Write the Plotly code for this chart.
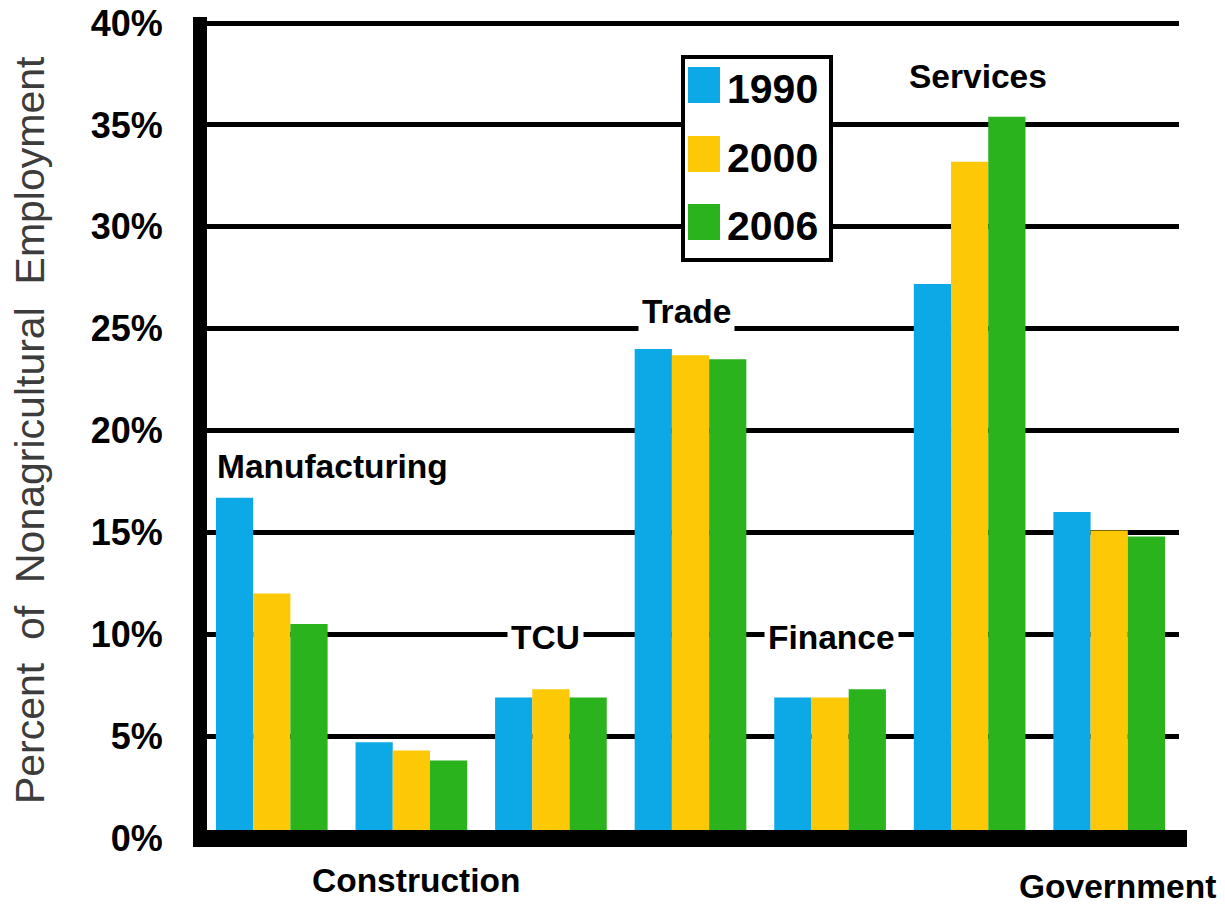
import plotly.graph_objects as go

# ---------------- data ----------------
categories = ["Manufacturing", "Construction", "TCU", "Trade", "Finance", "Services", "Government"]
years = ["1990", "2000", "2006"]
v1990 = [16.7, 4.7, 6.9, 24.0, 6.9, 27.2, 16.0]
v2000 = [12.0, 4.3, 7.3, 23.7, 6.9, 33.2, 15.1]
v2006 = [10.5, 3.8, 6.9, 23.5, 7.3, 35.4, 14.8]
tick_vals = [0, 5, 10, 15, 20, 25, 30, 35, 40]
tick_text = ["0%", "5%", "10%", "15%", "20%", "25%", "30%", "35%", "40%"]
y_title = "Percent\u00a0\u00a0of\u00a0\u00a0Nonagricultural\u00a0\u00a0Employment"

colors = ["#0DA9E6", "#FDC806", "#2AB31C"]
series = [v1990, v2000, v2006]

# page body margin is removed below, so the figure fills the window
W, H = 1225, 909
YMAX = 40.3
PX_PER_UNIT = 815 / 40
PL, PR, PB = 202, 1179, 838                  # plot area in pixels
PT = PB - YMAX * PX_PER_UNIT
L, R, T, B = PL, W - PR, PT, H - PB
PW, PH = PR - PL, PB - PT


def px(xpix):
    return (xpix - PL) / PW


def py(ypix):
    return (PB - ypix) / PH


BOLD = "Liberation Sans, Arial, sans-serif"

fig = go.Figure()
for name, vals, col in zip(years, series, colors):
    fig.add_trace(go.Bar(x=list(range(len(categories))), y=vals, name=name,
                         marker=dict(color=col, line=dict(width=0)),
                         showlegend=False, hovertext=categories))

# category labels placed like the original
label_pos = {
    "Manufacturing": (-0.42, py(466), "left"),
    "Construction": (1.03, py(881), "center"),
    "TCU": (1.96, py(637), "center"),
    "Trade": (2.97, py(311), "center"),
    "Finance": (4.01, py(637), "center"),
    "Services": (5.06, py(76), "center"),
    "Government": (6.06, py(887), "center"),
}
annotations = []
for cat in categories:
    xx, yy, anc = label_pos[cat]
    annotations.append(dict(x=xx, y=yy, xref="x", yref="paper", text=cat, showarrow=False,
                            xanchor=anc, yanchor="middle", bgcolor="white", borderpad=3,
                            font=dict(family=BOLD, size=33.5, color="black", weight="bold")))

# y-axis title
annotations.append(dict(x=px(30), y=py(430), xref="paper", yref="paper", text=y_title,
                        textangle=-90, showarrow=False, xanchor="center", yanchor="middle",
                        font=dict(family=BOLD, size=41, color="#3c3c3c")))

shapes = []
# legend box
shapes.append(dict(type="rect", xref="paper", yref="paper", x0=px(683), x1=px(831),
                   y0=py(260), y1=py(57), line=dict(color="black", width=4),
                   fillcolor="white", layer="above"))
sq_centers = [85, 154, 222]
for yr, col, cy in zip(years, colors, sq_centers):
    shapes.append(dict(type="rect", xref="paper", yref="paper", x0=px(688), x1=px(720),
                       y0=py(cy + 18), y1=py(cy - 18), line=dict(width=0),
                       fillcolor=col, layer="above"))
    annotations.append(dict(x=px(725), y=py(cy + 4), xref="paper", yref="paper", text=yr,
                            showarrow=False, xanchor="left", yanchor="middle",
                            font=dict(family=BOLD, size=41, color="black", weight="bold")))

# heavy axis lines
shapes.append(dict(type="rect", xref="paper", yref="paper", x0=px(193), x1=px(207),
                   y0=py(847), y1=py(17), line=dict(width=0), fillcolor="black", layer="above"))
shapes.append(dict(type="rect", xref="paper", yref="paper", x0=px(193), x1=px(1187),
                   y0=py(847), y1=py(830), line=dict(width=0), fillcolor="black", layer="above"))

fig.update_layout(
    width=W, height=H,
    margin=dict(l=L, r=R, t=T, b=B, autoexpand=False),
    paper_bgcolor="white", plot_bgcolor="white",
    barmode="group", bargap=0.2, bargroupgap=0,
    showlegend=False,
    xaxis=dict(range=[-0.5, 6.5], showticklabels=False, showgrid=False, zeroline=False,
               showline=False, ticks=""),
    yaxis=dict(range=[0, YMAX], tickvals=tick_vals, ticktext=tick_text, showgrid=True,
               gridcolor="black", gridwidth=5, zeroline=False, showline=False,
               ticks="outside", ticklen=31, tickcolor="rgba(0,0,0,0)",
               ticklabeloverflow="allow",
               tickfont=dict(family=BOLD, size=36, color="black", weight="bold")),
    annotations=annotations,
    shapes=shapes,
)

fig.write_html("out.html", config={"displayModeBar": False},
               post_script="document.body.style.margin='0';document.body.style.overflow='hidden';")
